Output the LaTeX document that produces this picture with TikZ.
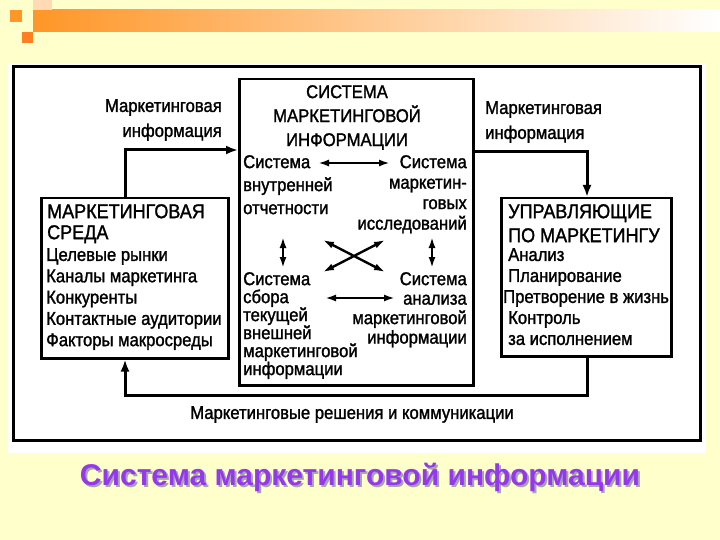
\documentclass[tikz,border=0pt]{standalone}
\usepackage{fontspec}
\setmainfont{Liberation Sans}
\newfontfamily\scanfont[FakeStretch=0.9,FakeBold=1.4]{Liberation Sans}
\usetikzlibrary{arrows.meta,positioning}
\definecolor{paper}{RGB}{255,255,204}
\definecolor{bar}{RGB}{255,150,40}
\definecolor{titel}{RGB}{150,55,240}
\tikzset{
    box/.style={draw, line width=2.5pt, rectangle, inner sep=0pt, anchor=north west},
    flow/.style={line width=3pt, -{Latex[length=12pt,width=9pt]}},
    both/.style={line width=2.4pt, {Latex[length=11pt,width=7pt]}-{Latex[length=11pt,width=7pt]}},
    txt/.style={inner sep=0pt, font=\scanfont\fontsize{18.5}{#1}\selectfont},
    txt/.default=21,
    big/.style={inner sep=0pt, font=\scanfont\fontsize{20}{#1}\selectfont},
}

\begin{document}
\begin{tikzpicture}[x=1pt,y=-1pt]
\useasboundingbox (0,0) rectangle (720,540);
\fill[paper] (0,0) rectangle (720,540);
% slide decoration
\shade[left color=bar, right color=white] (33,10) rectangle (720,32);
\fill[bar!35] (33,0) rectangle (52,10);
\fill[bar] (10,10) rectangle (22,22);
\fill[bar!85!red] (22,32) rectangle (33,43);
\fill[white] (8,63) rectangle (706,453);
\draw[line width=3pt] (13,67) rectangle (700,440);

% boxes
\node[box, minimum width=234pt, minimum height=306pt] (smi) at (238,78) {};
\node[box, minimum width=187pt, minimum height=160pt] (sreda) at (40,197) {};
\node[box, minimum width=170pt, minimum height=158pt] (upr) at (500,197) {};

% texts of the central box
\node[txt=24, align=center, anchor=north] (smiT) at (347,85) {СИСТЕМА\\МАРКЕТИНГОВОЙ\\ИНФОРМАЦИИ};
\node[txt=23, align=left, anchor=north west] (vn) at (243,155) {Система\\внутренней\\отчетности};
\node[txt=20.5, align=right, anchor=north east] (mr) at (467,155) {Система\\маркетин-\\говых\\исследований};
\node[txt=18, align=left, anchor=north west] (sb) at (243,272) {Система\\сбора\\текущей\\внешней\\маркетинговой\\информации};
\node[txt=19.5, align=right, anchor=north east] (an) at (467,272) {Система\\анализа\\маркетинговой\\информации};

% texts of the side boxes
\node[big=21, align=left, anchor=north west] (sredaT) at (47,204) {МАРКЕТИНГОВАЯ\\СРЕДА};
\node[txt=21.3, align=left, anchor=north west] (sredaL) at (46,248)
    {Целевые рынки\\Каналы маркетинга\\Конкуренты\\Контактные аудитории\\Факторы макросреды};
\node[big=24, align=left, anchor=north west] (uprT) at (508,204) {УПРАВЛЯЮЩИЕ\\ПО МАРКЕТИНГУ};
\node[txt=21, align=left, anchor=north west] (uprL) at (508,248)
    {Анализ\\Планирование\\\hspace*{-5pt}Претворение в жизнь\\Контроль\\за исполнением};

% labels of the flows
\node[txt=25, align=right, anchor=north east] (infoL) at (222,99) {Маркетинговая\\информация};
\node[txt=25, align=left, anchor=north west] (infoR) at (485,101) {Маркетинговая\\информация};
\node[txt, anchor=north] (resh) at (352,406) {Маркетинговые решения и коммуникации};

% outer flows
\coordinate (k1) at (125,150);
\coordinate (k2) at (587,152);
\coordinate (k3) at (587,395);
\coordinate (k4) at (125,395);
\draw[flow] (sreda.north -| k1) |- (smi.west |- k1);
\draw[flow] (smi.east |- k2) -| (upr.north -| k2);
\draw[flow] (upr.south -| k3) |- (k4) -- (sreda.south -| k4);

% links between the subsystems
\coordinate (a1) at (318,163);
\coordinate (a2) at (390,163);
\coordinate (b1) at (325,298);
\coordinate (b2) at (395,298);
\coordinate (c1) at (283,237);
\coordinate (c2) at (283,268);
\coordinate (d1) at (432,237);
\coordinate (d2) at (432,268);
\coordinate (x1) at (323,240);
\coordinate (x2) at (385,240);
\coordinate (x3) at (323,272);
\coordinate (x4) at (385,272);
\draw[both] (a1) -- (a2);
\draw[both] (b1) -- (b2);
\draw[both] (c1) -- (c2);
\draw[both] (d1) -- (d2);
\draw[both] (x1) -- (x4);
\draw[both] (x2) -- (x3);

% caption with its shadow
\node[titel, font=\fontsize{30}{34}\selectfont\bfseries, anchor=base] (cap) at (360,485)
    {\rlap{\hspace*{2pt}\raisebox{-2pt}{\color{gray!70}Система маркетинговой информации}}Система маркетинговой информации};
\end{tikzpicture}
\end{document}
